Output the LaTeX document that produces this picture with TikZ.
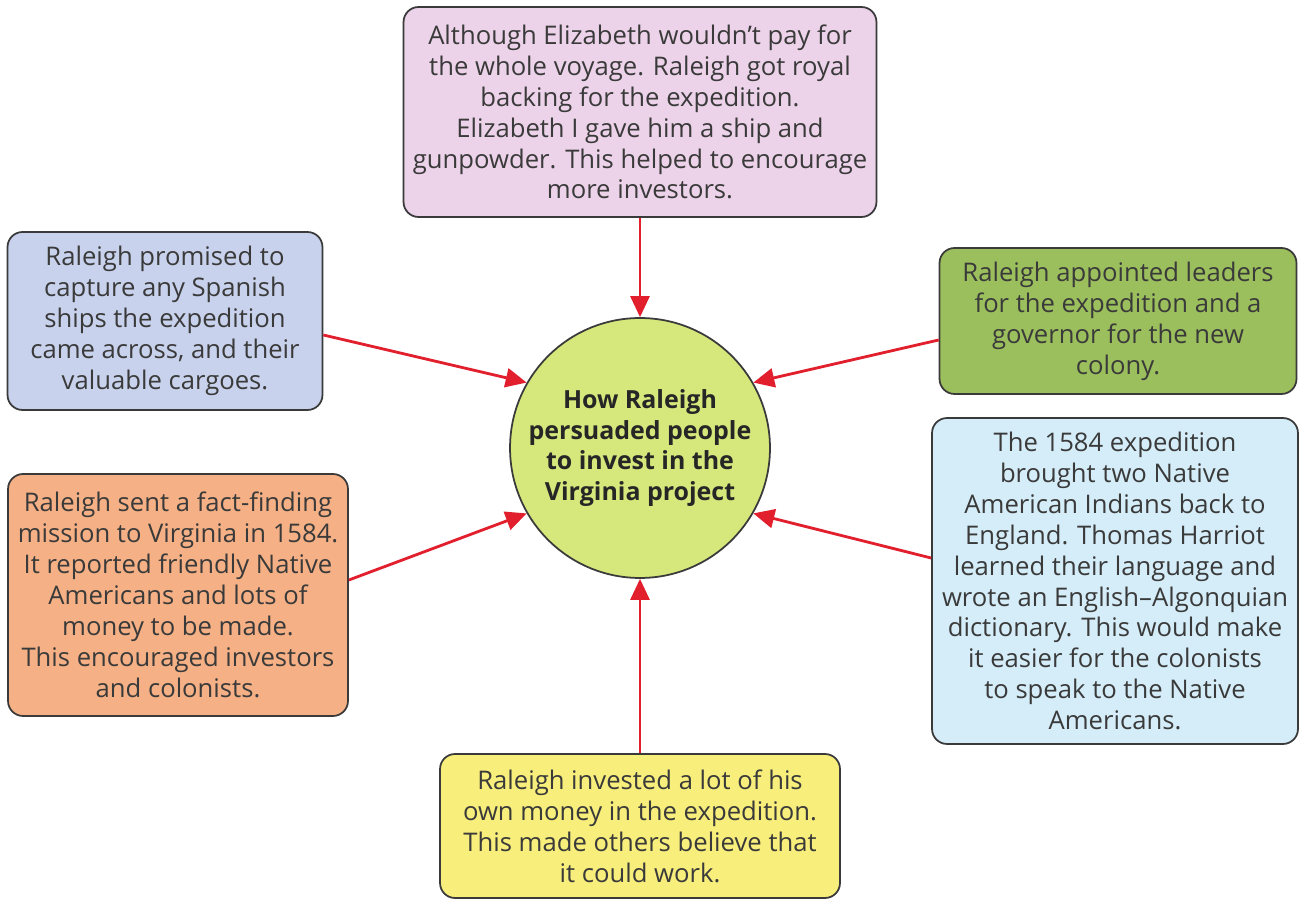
\documentclass[tikz,border=0pt]{standalone}
\usepackage{fontspec}
\setmainfont{Open Sans}
\usepackage[dvipsnames]{xcolor}
\usepackage{tikz}
\usetikzlibrary{shapes,arrows.meta}

\definecolor{pinkbox}{HTML}{EDD3EA}
\definecolor{bluebox}{HTML}{C8D2EC}
\definecolor{greenbox}{HTML}{9CBF5D}
\definecolor{orangebox}{HTML}{F5B185}
\definecolor{skybox}{HTML}{D5EDF8}
\definecolor{yellowbox}{HTML}{F8EE7C}
\definecolor{hubgreen}{HTML}{D6E77C}
\definecolor{arrowred}{HTML}{E11F2D}
\definecolor{textgrey}{HTML}{3A3A3A}

\begin{document}
\begin{tikzpicture}[x=0.02cm,y=-0.02cm,
  reason/.style={draw=textgrey,line width=1pt,rounded corners=0.3cm,align=center,
    text=textgrey,font=\fontsize{14.6}{17.6}\selectfont,inner sep=0pt},
  hub/.style={circle,draw=textgrey,line width=1pt,fill=hubgreen,align=center,inner sep=0pt,
    text=black!85,font=\bfseries\fontsize{14.2}{17.6}\selectfont,minimum size=5.2cm},
  push/.style={-{Triangle[length=0.42cm,width=0.38cm]},line width=1.6pt,color=arrowred}]

\useasboundingbox (0,0) rectangle (1304,901);

%centre circle
\node[hub] (hub) at (640,448) {How Raleigh\\persuaded people\\to invest in the\\Virginia project};

%the six reasons round it
\node[reason,fill=pinkbox,minimum width=9.46cm,minimum height=4.2cm] (royal) at (640,112)
  {Although Elizabeth wouldn’t pay for\\the whole voyage. Raleigh got royal\\backing for the expedition.\\Elizabeth I gave him a ship and\\gunpowder. This helped to encourage\\more investors.};
\node[reason,fill=bluebox,minimum width=6.3cm,minimum height=3.56cm] (spanish) at (165,321)
  {Raleigh promised to\\capture any Spanish\\ships the expedition\\came across, and their\\valuable cargoes.};
\node[reason,fill=greenbox,minimum width=7.14cm,minimum height=2.92cm] (leaders) at (1118,321)
  {Raleigh appointed leaders\\for the expedition and a\\governor for the new\\colony.};
\node[reason,fill=orangebox,minimum width=6.8cm,minimum height=4.84cm] (mission) at (178,595)
  {Raleigh sent a fact-finding\\mission to Virginia in 1584.\\It reported friendly Native\\Americans and lots of\\money to be made.\\This encouraged investors\\and colonists.};
\node[reason,fill=skybox,minimum width=7.32cm,minimum height=6.52cm] (harriot) at (1115,581)
  {The 1584 expedition\\brought two Native\\American Indians back to\\England. Thomas Harriot\\learned their language and\\wrote an English–Algonquian\\dictionary. This would make\\it easier for the colonists\\to speak to the Native\\Americans.};
\node[reason,fill=yellowbox,minimum width=8cm,minimum height=2.88cm] (money) at (640,826)
  {Raleigh invested a lot of his\\own money in the expedition.\\This made others believe that\\it could work.};

%arrows into the circle
\draw[push] (royal.south) -- (hub.north);
\draw[push] ([yshift=-0.28cm]spanish.east) -- (hub.150);
\draw[push] ([yshift=-0.38cm]leaders.west) -- (hub.30);
\draw[push] ([yshift=0.3cm]mission.east) -- (hub.210);
\draw[push] ([yshift=0.46cm]harriot.west) -- (hub.330);
\draw[push] (money.north) -- (hub.south);

\end{tikzpicture}
\end{document}
